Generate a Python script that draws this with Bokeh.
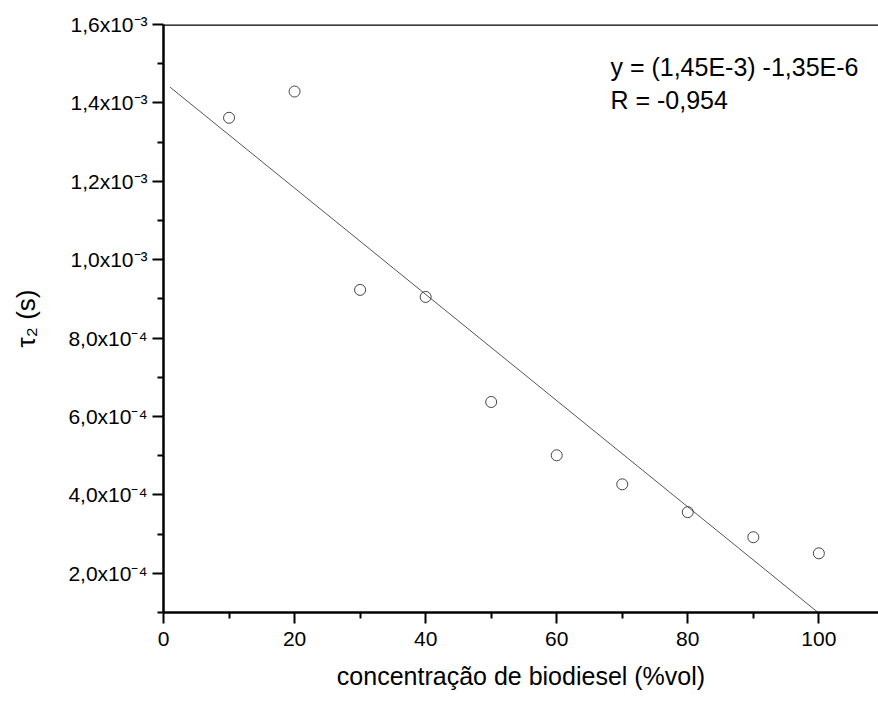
import numpy as np
from bokeh.plotting import figure
from bokeh.models import FixedTicker, Label, Span, ColumnDataSource
from bokeh.embed import file_html
from bokeh.resources import INLINE

# ---- data ----
conc = [10, 20, 30, 40, 50, 60, 70, 80, 90, 100]
tau2 = [1.362e-3, 1.429e-3, 0.923e-3, 0.905e-3, 0.637e-3,
        0.501e-3, 0.427e-3, 0.356e-3, 0.292e-3, 0.251e-3]

x_ticks = [0, 20, 40, 60, 80, 100]
x_minor = [10, 30, 50, 70, 90]
y_ticks = [2e-4, 4e-4, 6e-4, 8e-4, 1.0e-3, 1.2e-3, 1.4e-3, 1.6e-3]
y_minor = [1e-4, 3e-4, 5e-4, 7e-4, 9e-4, 1.1e-3, 1.3e-3, 1.5e-3]
y_tick_labels = ["2,0x10⁻⁴", "4,0x10⁻⁴", "6,0x10⁻⁴", "8,0x10⁻⁴",
                 "1,0x10⁻³", "1,2x10⁻³", "1,4x10⁻³", "1,6x10⁻³"]
fit_x = [1, 100]
eq_text = "y = (1,45E-3) -1,35E-6"
r_text = "R = -0,954"

FONT = "Liberation Sans"

# linear fit from the data
slope, intercept = np.polyfit(conc, tau2, 1)
fit_y = [intercept + slope * xx for xx in fit_x]

p = figure(width=878, height=702, output_backend="svg", toolbar_location=None,
           x_range=(0, 109.1), y_range=(1e-4, 1.6e-3),
           min_border_left=163, min_border_right=0, min_border_top=24,
           min_border_bottom=90)
p.outline_line_color = None
p.xgrid.visible = False
p.ygrid.visible = False
p.background_fill_color = "white"
p.border_fill_color = "white"

# top frame line
p.add_layout(Span(location=1.6e-3, dimension="width", line_color="black", line_width=2.5))

# fit line
p.line(fit_x, fit_y, line_color="#555555", line_width=1)

# data points
src = ColumnDataSource(dict(x=conc, y=tau2))
p.scatter("x", "y", source=src, marker="circle", size=11, fill_color=None,
          line_color="#444444", line_width=1)

# axes
for ax in (p.xaxis[0], p.yaxis[0]):
    ax.axis_line_width = 2.5
    ax.axis_line_color = "black"
    ax.major_tick_line_width = 2
    ax.minor_tick_line_width = 2
    ax.major_tick_line_color = "black"
    ax.minor_tick_line_color = "black"
    ax.major_tick_in = 0
    ax.minor_tick_in = 0
    ax.major_tick_out = 11
    ax.minor_tick_out = 6
    ax.major_label_text_font = FONT
    ax.major_label_text_font_size = "21px"
    ax.major_label_text_color = "black"
    ax.axis_label_text_font = FONT
    ax.axis_label_text_font_size = "25px"
    ax.axis_label_text_font_style = "normal"
    ax.axis_label_text_color = "black"

p.xaxis.ticker = FixedTicker(ticks=x_ticks, minor_ticks=x_minor)
p.xaxis.axis_label = "concentração de biodiesel (%vol)"
p.xaxis.major_label_standoff = 8
p.xaxis.axis_label_standoff = 13

p.yaxis.ticker = FixedTicker(ticks=y_ticks, minor_ticks=y_minor)
p.yaxis.major_label_overrides = {t: lab for t, lab in zip(y_ticks, y_tick_labels)}
p.yaxis.axis_label = "τ₂ (s)"
p.yaxis.axis_label_text_font_size = "26px"
p.yaxis.major_label_standoff = 5
p.yaxis.axis_label_standoff = 24

# equation annotation
p.add_layout(Label(x=68.2, y=1.4927e-3, text=eq_text, text_font=FONT,
                   text_font_size="25px", text_color="black", text_baseline="alphabetic"))
p.add_layout(Label(x=68.2, y=1.4084e-3, text=r_text, text_font=FONT,
                   text_font_size="25px", text_color="black", text_baseline="alphabetic"))

open("out.html", "w").write(file_html(p, INLINE))
